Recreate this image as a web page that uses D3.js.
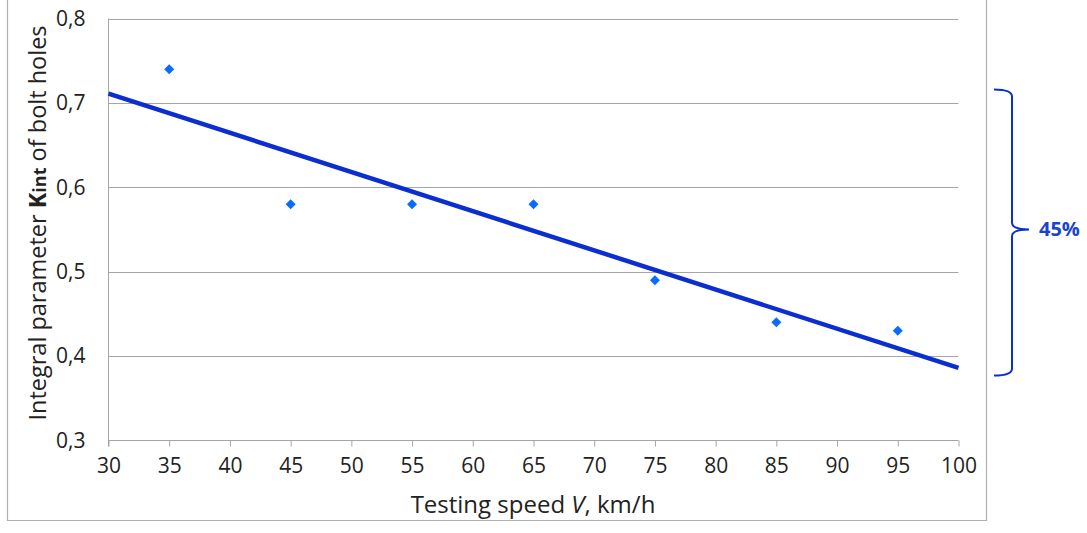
<!DOCTYPE html>
<html><head><meta charset="utf-8">
<script src="https://cdn.jsdelivr.net/npm/d3@7"></script>
<style>body{margin:0;background:#fff}svg{display:block;font-family:"Open Sans",sans-serif}</style>
</head><body><svg id="c" width="1087" height="533"></svg>
<script>
const speeds = [35, 45, 55, 65, 75, 85, 95];
const kint = [0.74, 0.58, 0.58, 0.58, 0.49, 0.44, 0.43];
const trendX = [30, 100];
const trendY = [0.711, 0.386];
const xTicks = [30,35,40,45,50,55,60,65,70,75,80,85,90,95,100];
const yTicks = [0.3,0.4,0.5,0.6,0.7,0.8];
const braceRange = [0.716, 0.377];
const braceLabel = "45%";

const svg = d3.select("#c");
const x = d3.scaleLinear().domain([30,100]).range([108.5,958.5]);
const y = d3.scaleLinear().domain([0.3,0.8]).range([440.5,18.5]);

// outer frame
svg.append("path").attr("d","M7.5,0 V520.5 H986.5 V0").attr("fill","none").attr("stroke","#b0b0b0").attr("stroke-width",1.2);

// gridlines
svg.append("g").selectAll("line").data(yTicks.slice(1)).join("line")
  .attr("x1",x(30)).attr("x2",x(100)).attr("y1",d=>Math.round(y(d))+0.5).attr("y2",d=>Math.round(y(d))+0.5)
  .attr("stroke","#a6a6a6").attr("stroke-width",1);

// x axis
const xa = svg.append("g").attr("transform",`translate(0,${y(0.3)})`)
  .call(d3.axisBottom(x).tickValues(xTicks).tickSize(6).tickPadding(12).tickFormat(d3.format("d")));
xa.select(".domain").attr("stroke","#a6a6a6").attr("d",`M${x(30)},0H${x(100)}`);
xa.selectAll(".tick line").attr("stroke","#a6a6a6");
xa.selectAll("text").attr("font-size",21).attr("fill","#222").attr("font-family","'Open Sans',sans-serif");

// y axis
const ya = svg.append("g").attr("transform",`translate(${x(30)},0)`)
  .call(d3.axisLeft(y).tickValues(yTicks).tickSize(0).tickPadding(23).tickFormat(d=>d3.format(".1f")(d).replace(".",",")));
ya.select(".domain").attr("stroke","#a6a6a6").attr("d",`M0,${y(0.8)}V${y(0.3)+6}`);
ya.selectAll("text").attr("font-size",21).attr("fill","#222").attr("font-family","'Open Sans',sans-serif");

// trend line
svg.append("line").attr("x1",x(trendX[0])).attr("y1",y(trendY[0])).attr("x2",x(trendX[1])).attr("y2",y(trendY[1]))
  .attr("stroke","#0a2ed0").attr("stroke-width",4.5);

// points
svg.append("g").selectAll("path").data(speeds).join("path")
  .attr("transform",(d,i)=>`translate(${x(d)},${y(kint[i])})`)
  .attr("d",d3.symbol(d3.symbolDiamond2,64))
  .attr("fill","#0a6cff");

// brace
const b0 = y(braceRange[0]), b1 = y(braceRange[1]), bm = (b0+b1)/2 - 3;
const bx = 1012, r = 7;
svg.append("path").attr("fill","none").attr("stroke","#0a32c8").attr("stroke-width",2)
  .attr("d",`M994,${b0} Q${bx},${b0} ${bx},${b0+r} V${bm-r} Q${bx},${bm} 1029,${bm} Q${bx},${bm} ${bx},${bm+r} V${b1-r} Q${bx},${b1} 994,${b1}`);
svg.append("text").attr("x",1039).attr("y",bm+7).attr("font-size",20).attr("font-weight","bold")
  .attr("fill","#1a44cc").text(braceLabel);

// axis titles
svg.append("text").attr("x",533).attr("y",513).attr("text-anchor","middle").attr("font-size",24).attr("fill","#222")
  .call(t=>{t.append("tspan").text("Testing speed ");t.append("tspan").attr("font-style","italic").text("V");t.append("tspan").text(", km/h");});
svg.append("text").attr("transform","translate(46,223) rotate(-90)").attr("text-anchor","middle").attr("font-size",23.5).attr("fill","#222")
  .call(t=>{t.append("tspan").text("Integral parameter ");t.append("tspan").attr("font-weight","bold").text("K");
    t.append("tspan").attr("font-weight","bold").attr("font-size",18).text("int");t.append("tspan").text(" of bolt holes");});
</script></body></html>
